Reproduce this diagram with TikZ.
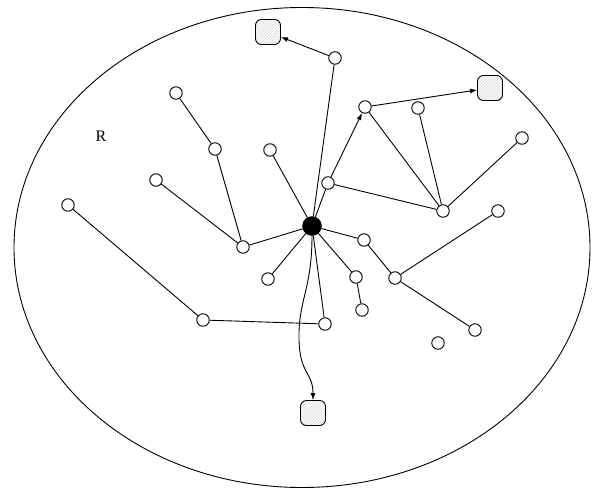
\documentclass[tikz,border=0pt]{standalone}
\usepackage{fontspec}
\setmainfont{Liberation Serif}
\usetikzlibrary{arrows.meta,patterns}
\begin{document}
\begin{tikzpicture}[x=1pt,y=-1pt,
  v/.style={circle,draw,line width=0.9pt,minimum size=12.5pt,inner sep=0pt,fill=white},
  hubnode/.style={circle,fill=black,draw,minimum size=19pt,inner sep=0pt},
  sink/.style={draw,line width=0.9pt,rounded corners=6pt,minimum size=25pt,inner sep=0pt,pattern=north east lines,pattern color=gray!35},
  ed/.style={line width=0.9pt},
  arr/.style={line width=0.9pt,-{Latex[length=7pt,width=5pt]}}]
\useasboundingbox (0,0) rectangle (602,490);
\draw[line width=0.9pt] (302,247.5) ellipse [x radius=288, y radius=240];
\node[font=\fontsize{16}{18}\selectfont] (R) at (101,136) {R};
\node[hubnode] (hub) at (312,226) {};
\node[sink] (s1) at (268,32) {};
\node[sink] (s2) at (490,88) {};
\node[sink] (s3) at (313,413) {};
\node[v] (t) at (335,58) {};
\node[v] (n1) at (176,93) {};
\node[v] (n2) at (215,149) {};
\node[v] (n3) at (270,150) {};
\node[v] (n4) at (156,180) {};
\node[v] (n5) at (243,247) {};
\node[v] (n6) at (68,205) {};
\node[v] (n7) at (268,279) {};
\node[v] (n8) at (203,320) {};
\node[v] (n9) at (325,324) {};
\node[v] (n10) at (356,277) {};
\node[v] (n11) at (362,310) {};
\node[v] (n12) at (364,240) {};
\node[v] (n13) at (395,278) {};
\node[v] (n14) at (498,211) {};
\node[v] (n15) at (475,330) {};
\node[v] (n16) at (438,343) {};
\node[v] (n17) at (328,183) {};
\node[v] (n18) at (365,107) {};
\node[v] (n19) at (418,108) {};
\node[v] (n20) at (522,138) {};
\node[v] (n21) at (443,211) {};
\draw[ed] (hub) -- (t);
\draw[arr] (t) -- (s1);
\draw[ed] (hub) -- (n17);
\draw[ed] (hub) -- (n3);
\draw[ed] (hub) -- (n5);
\draw[ed] (hub) -- (n7);
\draw[ed] (hub) -- (n9);
\draw[ed] (hub) -- (n10);
\draw[ed] (hub) -- (n12);
\draw[arr] (hub.south) .. controls (312,290) and (298,300) .. (299,340) .. controls (300,375) and (313,372) .. (s3.north);
\draw[ed] (n1) -- (n2);
\draw[ed] (n2) -- (n5);
\draw[ed] (n4) -- (n5);
\draw[ed] (n6) -- (n8);
\draw[ed] (n8) -- (n9);
\draw[ed] (n10) -- (n11);
\draw[ed] (n12) -- (n13);
\draw[ed] (n13) -- (n14);
\draw[ed] (n13) -- (n15);
\draw[ed] (n17) -- (n21);
\draw[arr] (n17) -- (n18);
\draw[arr] (n18) -- (s2);
\draw[ed] (n18) -- (n21);
\draw[ed] (n19) -- (n21);
\draw[ed] (n20) -- (n21);
\end{tikzpicture}
\end{document}
